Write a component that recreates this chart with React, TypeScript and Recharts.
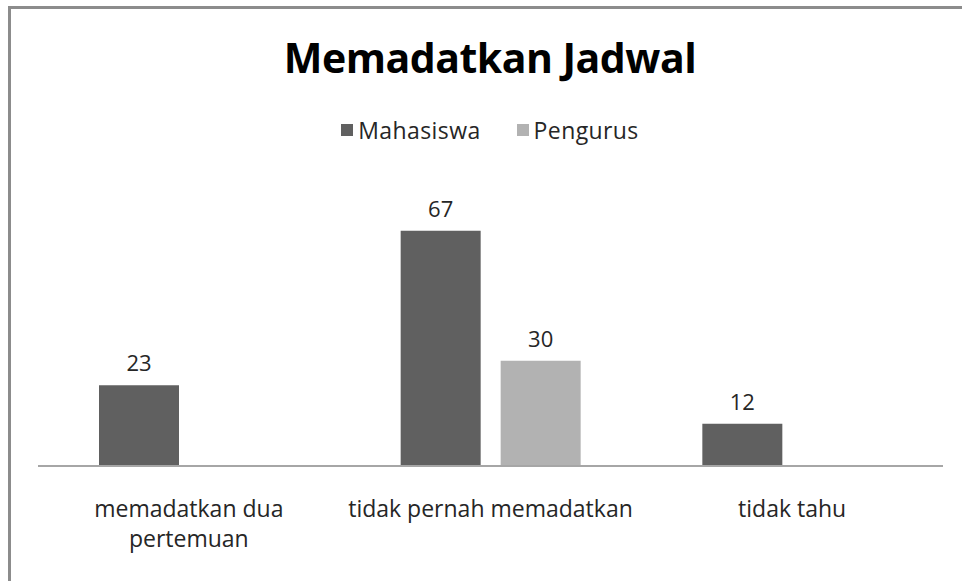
import React from 'react'
import { BarChart, Bar, XAxis, YAxis, Legend, LabelList } from 'recharts'

const CATEGORIES = ['memadatkan dua pertemuan', 'tidak pernah memadatkan', 'tidak tahu']
const CATEGORY_LINES = [['memadatkan dua', 'pertemuan'], ['tidak pernah memadatkan'], ['tidak tahu']]
const MAHASISWA = [23, 67, 12]
const PENGURUS = [null, 30, null]

const SERIES = [
  { key: 'mahasiswa', name: 'Mahasiswa', color: '#606060' },
  { key: 'pengurus', name: 'Pengurus', color: '#b2b2b2' },
]

const FONT = '"Open Sans", "Noto Sans", sans-serif'
const TEXT_COLOR = '#262626'

const data = CATEGORIES.map((c, i) => ({
  category: c,
  mahasiswa: MAHASISWA[i],
  pengurus: PENGURUS[i],
}))

function CategoryTick(props: any) {
  const { x, y, payload } = props
  const lines = CATEGORY_LINES[payload.index] || [payload.value]
  return (
    <g>
      {lines.map((line, i) => (
        <text
          key={i}
          x={x}
          y={y + 43 + i * 30}
          textAnchor="middle"
          fill={TEXT_COLOR}
          fontSize={23}
          fontFamily={FONT}
        >
          {line}
        </text>
      ))}
    </g>
  )
}

function LegendContent() {
  return (
    <div style={{ display: 'flex', justifyContent: 'center', gap: 36, fontFamily: FONT, fontSize: 23, color: TEXT_COLOR }}>
      {SERIES.map(s => (
        <div key={s.key} style={{ display: 'flex', alignItems: 'center' }}>
          <span style={{ width: 12, height: 12, background: s.color, display: 'inline-block', marginRight: 5 }} />
          <span style={{ letterSpacing: 0.4 }}>{s.name}</span>
        </div>
      ))}
    </div>
  )
}

export default function App() {
  return (
    <div style={{ position: 'absolute', left: 0, top: 0, width: 962, height: 581, overflow: 'hidden', background: '#fff' }}>
      <div
        style={{
          position: 'absolute',
          left: 8,
          top: 6,
          width: 964,
          height: 600,
          border: '3px solid #8c8c8c',
          boxSizing: 'border-box',
        }}
      />
      <div
        style={{
          position: 'absolute',
          left: 9,
          top: 29,
          width: 962,
          textAlign: 'center',
          fontFamily: FONT,
          fontWeight: 700,
          fontSize: 41,
          color: '#000',
          letterSpacing: -0.5,
        }}
      >
        Memadatkan Jadwal
      </div>
      <div style={{ position: 'absolute', left: 0, top: 0 }}>
        <BarChart
          width={962}
          height={581}
          data={data}
          margin={{ top: 185, right: 19, bottom: 0, left: 38 }}
          barGap={20}
          barCategoryGap="20%"
        >
          <XAxis
            dataKey="category"
            axisLine={{ stroke: '#a6a6a6', strokeWidth: 2 }}
            tickLine={false}
            tick={<CategoryTick />}
            interval={0}
            height={115}
          />
          <YAxis hide domain={[0, 80]} />
          <Legend
            layout="horizontal"
            verticalAlign="middle"
            align="center"
            content={<LegendContent />}
            wrapperStyle={{ top: 114, left: 9, width: 962 }}
          />
          {SERIES.map(s => (
            <Bar key={s.key} dataKey={s.key} name={s.name} fill={s.color} barSize={80} isAnimationActive={false}>
              <LabelList
                dataKey={s.key}
                position="top"
                offset={14}
                fill={TEXT_COLOR}
                fontSize={22}
                fontFamily={FONT}
              />
            </Bar>
          ))}
        </BarChart>
      </div>
    </div>
  )
}
